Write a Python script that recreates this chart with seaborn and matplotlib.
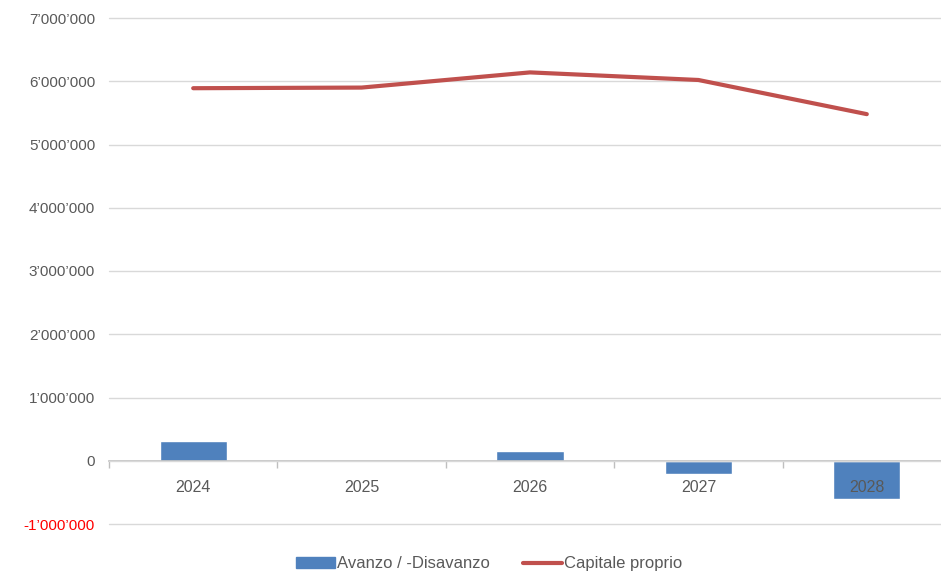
import matplotlib
matplotlib.use("Agg")
import matplotlib.pyplot as plt
import matplotlib.ticker as mticker
from matplotlib.patches import Patch
from matplotlib.lines import Line2D
import seaborn as sns

# dati
anni = ["2024", "2025", "2026", "2027", "2028"]
avanzo = [310000, 0, 160000, -210000, -610000]
capitale = [5890000, 5900000, 6140000, 6020000, 5480000]

BLU = "#4f81bd"
ROSSO = "#c0504d"
GRIGIO = "#595959"

sns.set_theme(style="white")
plt.rcParams["font.family"] = ["Liberation Sans", "DejaVu Sans"]

fig = plt.figure(figsize=(9.41, 5.72), dpi=100)
ax = fig.add_axes([109 / 941, 48 / 572, 842 / 941, 506 / 572])

sns.barplot(x=anni, y=avanzo, color=BLU, width=0.4, saturation=1, ax=ax, zorder=1)
sns.lineplot(x=list(range(len(anni))), y=capitale, color=ROSSO, linewidth=3,
             ax=ax, zorder=3)

ax.set_axisbelow(False)
ax.set_xlim(-0.5, len(anni) - 0.5)
ax.set_ylim(-1000000, 7000000)
ax.yaxis.set_major_locator(mticker.MultipleLocator(1000000))
ax.yaxis.set_major_formatter(
    mticker.FuncFormatter(lambda v, p: f"{int(v):,}".replace(",", "\u2019")))
ax.grid(axis="y", color="#d9d9d9", linewidth=1, zorder=0)
ax.grid(axis="x", visible=False)
for g in ax.yaxis.get_gridlines():
    g.set_clip_on(False)

for s in ["top", "right", "left"]:
    ax.spines[s].set_visible(False)
ax.spines["bottom"].set_position(("data", 0))
ax.spines["bottom"].set_color("#bfbfbf")
ax.spines["bottom"].set_linewidth(1.2)

ax.set_xticks(range(len(anni)))
ax.set_xticklabels(anni)
ax.set_xticks([i - 0.5 for i in range(len(anni) + 1)], minor=True)
ax.tick_params(axis="x", which="major", bottom=False, length=0, pad=14,
               labelsize=11.5, labelcolor=GRIGIO)
ax.tick_params(axis="x", which="minor", bottom=True, length=5, color="#bfbfbf",
               width=1, direction="out")
ax.tick_params(axis="y", length=0, pad=10, labelsize=11, labelcolor=GRIGIO)
for lab, v in zip(ax.get_yticklabels(), ax.get_yticks()):
    if v < 0:
        lab.set_color("red")
ax.set_xlabel("")
ax.set_ylabel("")

handles = [Patch(facecolor=BLU, edgecolor=BLU),
           Line2D([0], [0], color=ROSSO, linewidth=3)]
fig.legend(handles, ["Avanzo / -Disavanzo", "Capitale proprio"], loc="lower center",
           bbox_to_anchor=(0.52, -0.025), ncol=2, frameon=False, fontsize=12,
           handlelength=2.3, handleheight=0.6, columnspacing=2.0, handletextpad=0.15,
           labelcolor=GRIGIO)

fig.savefig("out.png", dpi=100)
